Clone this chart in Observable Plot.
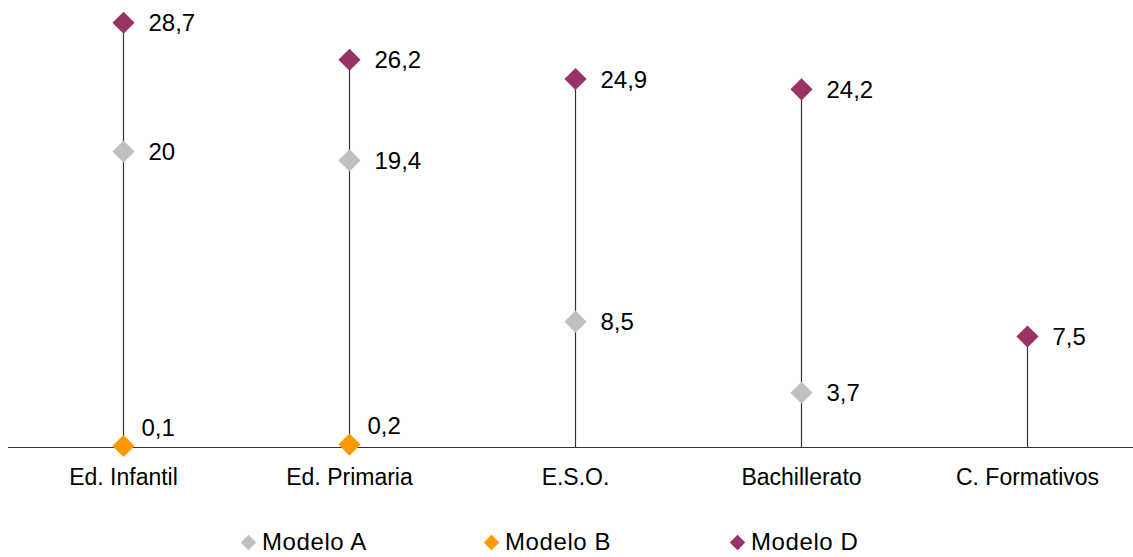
<!DOCTYPE html>
<html>
<head>
<meta charset="utf-8">
<script src="https://cdn.jsdelivr.net/npm/d3@7"></script>
<script src="https://cdn.jsdelivr.net/npm/@observablehq/plot@0.6"></script>
<style>
  body { margin: 0; background: #fff; font-family: "Liberation Sans", Arial, sans-serif; }
  #chart { width: 1133px; }
  #legend { position: relative; width: 1133px; height: 36px; margin-top: 26px; font-size: 24px; color: #000; }
  .item { position: absolute; top: 0; display: flex; align-items: center; gap: 6px; height: 32px; letter-spacing: 0.6px; }
  .sw { width: 11px; height: 11px; transform: rotate(45deg); margin: 0 2.5px; }
</style>
</head>
<body>
<div id="chart"></div>
<div id="legend"></div>
<script>
const categories = ["Ed. Infantil", "Ed. Primaria", "E.S.O.", "Bachillerato", "C. Formativos"];
const modeloA = [20, 19.4, 8.5, 3.7, null];
const modeloB = [0.1, 0.2, null, null, null];
const modeloD = [28.7, 26.2, 24.9, 24.2, 7.5];
const seriesNames = ["Modelo A", "Modelo B", "Modelo D"];
const seriesColors = ["#C0C0C0", "#FF9900", "#993366"];
const legendLeft = [240, 483, 729];

const seriesValues = [modeloA, modeloB, modeloD];
const points = [];
seriesValues.forEach((vals, s) => {
  vals.forEach((v, i) => {
    if (v != null) points.push({cat: categories[i], value: v, series: seriesNames[s]});
  });
});
const stems = categories.map((c, i) => ({cat: c, top: d3.max(seriesValues, vals => vals[i])}));
const fmt = v => String(v).replace(".", ",");
const colorOf = s => seriesColors[seriesNames.indexOf(s)];

const chart = Plot.plot({
  width: 1133,
  height: 500,
  marginTop: 3,
  marginBottom: 53,
  marginLeft: 8,
  marginRight: 0,
  style: {fontFamily: "'Liberation Sans', Arial, sans-serif", fontSize: "23px", color: "#000", background: "#fff"},
  x: {type: "point", domain: categories, range: [122, 1027], padding: 0},
  y: {domain: [0, 30], axis: null},
  marks: [
    Plot.ruleX(stems, {x: "cat", y1: 0, y2: "top", stroke: "#333333", strokeWidth: 1.2}),
    Plot.ruleY([0], {stroke: "#333333", strokeWidth: 1.2}),
    Plot.axisX({tickSize: 0, tickPadding: 21, fontSize: 23, fill: "#000", label: null, style: {letterSpacing: "0.8px"}}),
    Plot.dot(points, {x: "cat", y: "value", symbol: "diamond2", r: 10, fill: d => colorOf(d.series), stroke: "none"}),
    Plot.text(points.filter(d => d.series !== "Modelo B"), {x: "cat", y: "value", text: d => fmt(d.value), textAnchor: "start", dx: 25, dy: 1, fontSize: 24, fill: "#000"}),
    Plot.text(points.filter(d => d.series === "Modelo B"), {x: "cat", y: "value", text: d => fmt(d.value), textAnchor: "start", dx: 18, dy: -18, fontSize: 24, fill: "#000"})
  ]
});
document.getElementById("chart").append(chart);

const legend = document.getElementById("legend");
seriesNames.forEach((name, i) => {
  const item = document.createElement("div");
  item.className = "item";
  item.style.left = legendLeft[i] + "px";
  const sw = document.createElement("span");
  sw.className = "sw";
  sw.style.background = seriesColors[i];
  const label = document.createElement("span");
  label.textContent = name;
  item.append(sw, label);
  legend.append(item);
});
</script>
</body>
</html>
